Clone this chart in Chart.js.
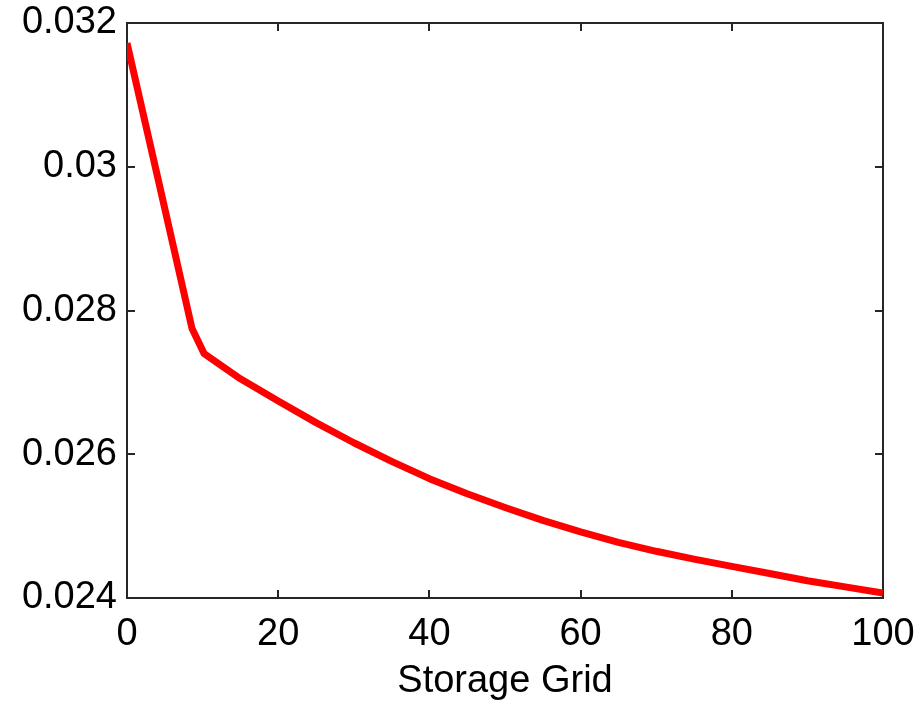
<!DOCTYPE html>
<html>
<head>
<meta charset="utf-8">
<script src="https://cdn.jsdelivr.net/npm/chart.js@4/dist/chart.umd.min.js"></script>
<style>
  html, body { margin: 0; padding: 0; background: #ffffff; }
  #c { display: block; }
</style>
</head>
<body>
<canvas id="c" width="924" height="704"></canvas>
<script>
// ---- data ----
const storageGrid = [0, 4, 8.6, 10.2, 15, 20, 25, 30, 35, 40, 45, 50, 55, 60, 65, 70, 75, 80, 85, 90, 95, 100];
const values = [0.03172, 0.02988, 0.02775, 0.02740, 0.02705, 0.02674, 0.02644, 0.02616, 0.02590, 0.02566,
                0.02545, 0.02526, 0.02508, 0.02492, 0.024775, 0.02465, 0.02454, 0.02444, 0.02434, 0.02424,
                0.024155, 0.02407];
const xTicks = [0, 20, 40, 60, 80, 100];
const yTicks = [0.024, 0.026, 0.028, 0.03, 0.032];
const yTickLabels = ['0.024', '0.026', '0.028', '0.03', '0.032'];
const xTitle = 'Storage Grid';

const points = storageGrid.map((x, i) => ({ x: x, y: values[i] }));

const FONT = 'Liberation Sans, Arial, Helvetica, sans-serif';
const FRAME = '#262626';

function zeroPad(s) {
  s.paddingTop = 0; s.paddingBottom = 0; s.paddingLeft = 0; s.paddingRight = 0;
}

const framePlugin = {
  id: 'matlabFrame',
  beforeDatasetsDraw(chart) {
    const { ctx, chartArea: a, scales } = chart;
    const tl = 8;
    ctx.save();
    ctx.strokeStyle = FRAME;
    ctx.lineWidth = 2;
    ctx.strokeRect(a.left, a.top, a.right - a.left, a.bottom - a.top);
    ctx.beginPath();
    scales.x.ticks.forEach(t => {
      const px = Math.round(scales.x.getPixelForValue(t.value));
      if (px <= a.left + 1 || px >= a.right - 1) return;
      ctx.moveTo(px, a.bottom); ctx.lineTo(px, a.bottom - tl);
      ctx.moveTo(px, a.top); ctx.lineTo(px, a.top + tl);
    });
    scales.y.ticks.forEach(t => {
      const py = Math.round(scales.y.getPixelForValue(t.value));
      if (py <= a.top + 1 || py >= a.bottom - 1) return;
      ctx.moveTo(a.left, py); ctx.lineTo(a.left + tl, py);
      ctx.moveTo(a.right, py); ctx.lineTo(a.right - tl, py);
    });
    ctx.stroke();
    ctx.restore();
  }
};

new Chart(document.getElementById('c'), {
  type: 'line',
  data: {
    datasets: [{
      data: points,
      borderColor: '#ff0000',
      borderWidth: 7,
      pointRadius: 0,
      tension: 0,
      fill: false,
      borderJoinStyle: 'round',
      borderCapStyle: 'butt'
    }]
  },
  options: {
    responsive: false,
    animation: false,
    devicePixelRatio: 1,
    layout: { padding: { left: 0, right: 41, top: 23, bottom: 0 } },
    plugins: { legend: { display: false }, tooltip: { enabled: false }, title: { display: false } },
    scales: {
      x: {
        type: 'linear',
        min: 0, max: 100,
        afterBuildTicks: s => { s.ticks = xTicks.map(v => ({ value: v })); },
        afterFit: s => { s.height = 106; zeroPad(s); },
        grid: { display: false, drawTicks: false },
        border: { display: false },
        ticks: {
          padding: 14,
          color: '#000000',
          font: { family: FONT, size: 38 },
          maxRotation: 0,
          callback: v => String(v)
        },
        title: {
          display: true,
          text: xTitle,
          color: '#000000',
          font: { family: FONT, size: 38 },
          padding: { top: 0, bottom: 0 }
        }
      },
      y: {
        type: 'linear',
        min: 0.024, max: 0.032,
        afterBuildTicks: s => { s.ticks = yTicks.map(v => ({ value: v })); },
        afterFit: s => { s.width = 127; zeroPad(s); },
        grid: { display: false, drawTicks: false },
        border: { display: false },
        ticks: {
          padding: 10,
          color: '#000000',
          font: { family: FONT, size: 38 },
          callback: v => {
            const i = yTicks.findIndex(t => Math.abs(t - v) < 1e-9);
            return i >= 0 ? yTickLabels[i] : '';
          }
        }
      }
    }
  },
  plugins: [framePlugin]
});
</script>
</body>
</html>
